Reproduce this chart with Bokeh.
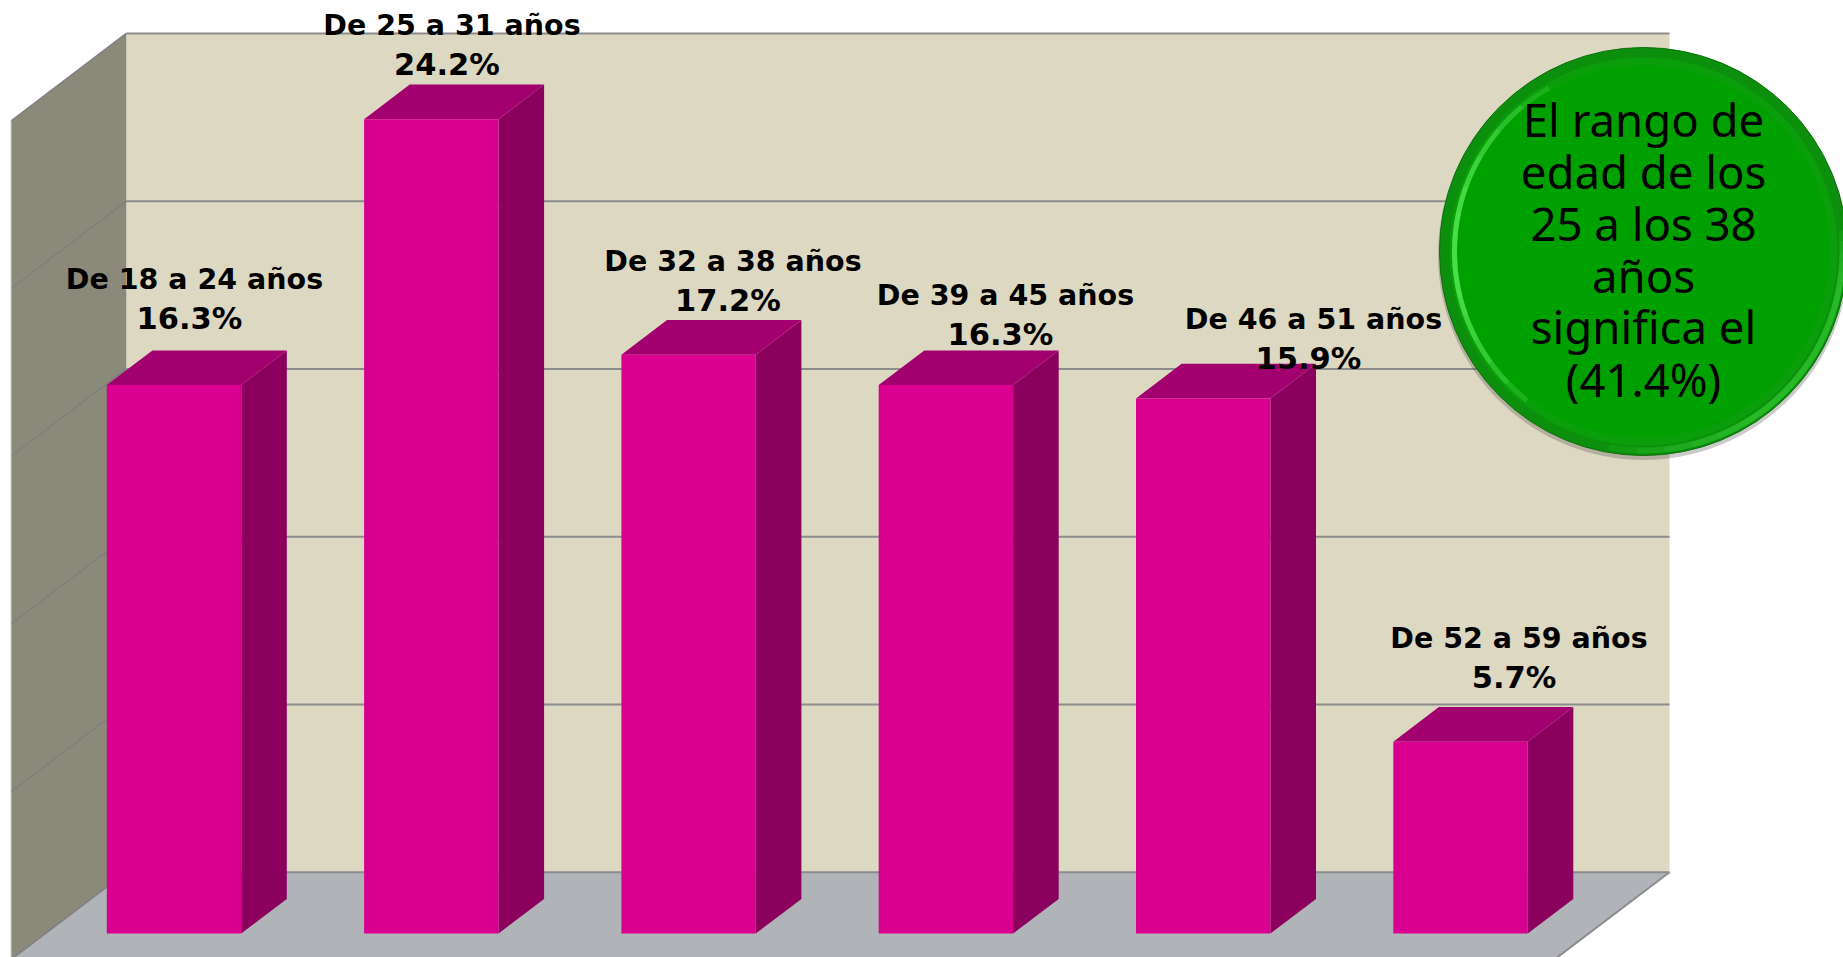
from math import radians as rad
from bokeh.plotting import figure
from bokeh.embed import file_html
from bokeh.resources import INLINE
from bokeh.core.properties import value as V
from bokeh.models import Range1d

# ---- data ----
categories = ["De 18 a 24 años", "De 25 a 31 años", "De 32 a 38 años",
              "De 39 a 45 años", "De 46 a 51 años", "De 52 a 59 años"]
percent = [16.3, 24.2, 17.2, 16.3, 15.9, 5.7]
grid_ticks = [0, 5, 10, 15, 20, 25]
note_lines = ["El rango de", "edad de los", "25 a los 38", "años", "significa el", "(41.4%)"]

# ---- layout (page pixels) ----
W, H = 1843, 957
PX_PER_CAT = 257.3
PX_PER_PCT = 33.65
WALL_PX_PER_TICK = 33.55
BAR0_CX, BASE_Y = 173.5, 933.0
def X(px): return (px - BAR0_CX) / PX_PER_CAT
def Y(py): return (BASE_Y - py) / PX_PER_PCT

p = figure(width=W, height=H, output_backend="svg", toolbar_location=None,
           x_range=Range1d(X(0), X(W)), y_range=Range1d(Y(H), Y(0)),
           min_border=0, outline_line_color=None, background_fill_color="white",
           border_fill_color="white")
p.axis.visible = False
p.grid.visible = False

hw = 67.2 / PX_PER_CAT          # half bar width
ddx, ddy = 45.6 / PX_PER_CAT, 34.6 / PX_PER_PCT   # bar depth
wall_l, wall_r = X(125.8), X(1669)
back0 = Y(871.7)                 # value 0 on the back wall
wx, wy = 115.1 / PX_PER_CAT, 87.3 / PX_PER_PCT     # chart depth
floor_bot = back0 - wy
k = WALL_PX_PER_TICK / PX_PER_PCT
top = max(grid_ticks) * k

# walls and floor
p.patch([wall_l, wall_r, wall_r, wall_l], [back0, back0, back0 + top, back0 + top],
        fill_color="#DDD8C2", line_color=None)
p.patch([wall_l - wx, wall_l, wall_l, wall_l - wx],
        [floor_bot, back0, back0 + top, floor_bot + top],
        fill_color="#8B8979", line_color=None)
p.patch([wall_l - wx, wall_l, wall_r, wall_r - wx],
        [floor_bot, back0, back0, floor_bot],
        fill_color="#B0B3B8", line_color=None)

# gridlines
for t in grid_ticks:
    p.line([wall_l, wall_r], [back0 + t * k, back0 + t * k], line_color="#8C8C8C", line_width=2)
    p.line([wall_l - wx, wall_l], [floor_bot + t * k, back0 + t * k], line_color="#7F7F82", line_width=1.5)
p.line([wall_r, wall_r - wx], [back0, floor_bot], line_color="#8C8C8C", line_width=2)
p.line([wall_l - wx, wall_l - wx], [floor_bot, floor_bot + top], line_color="#B5B3A0", line_width=1)

# 3-D bars
for i, v in enumerate(percent):
    l, r = i - hw, i + hw
    p.patch([r, r + ddx, r + ddx, r], [0, ddy, v + ddy, v], fill_color="#8A005C", line_color=None)
    p.patch([l, r, r + ddx, l + ddx], [v, v, v + ddy, v + ddy], fill_color="#A3006F", line_color=None)
    p.quad(left=l, right=r, bottom=0, top=v, fill_color="#D90090", line_color=None)

# data labels
LABEL_FONT = V("DejaVu Sans")
label_cx = [194, 451.5, 732.5, 1005, 1313, 1518.5]
label_base = [278.5, 24.5, 261, 295, 318.5, 638]
for name, v, cx, by in zip(categories, percent, label_cx, label_base):
    p.text([X(cx)], [Y(by)], text=[name], text_font=LABEL_FONT, text_font_style="bold",
           text_font_size="28.5px", text_align="center", text_baseline="alphabetic", text_color="#000000")
    p.text([X(cx - 5)], [Y(by + 39)], text=[f"{v}%"], text_font=LABEL_FONT, text_font_style="bold",
           text_font_size="30.5px", text_align="center", text_baseline="alphabetic", text_color="#000000")

# green badge
cx, cy = X(1643), Y(251)
p.scatter([X(1643)], [Y(254)], size=411, marker="circle", fill_color="#444444", fill_alpha=0.28, line_color=None)
p.scatter([cx], [cy], size=408, marker="circle", fill_color="#0C8F0C", line_color="#0A6E0A", line_width=1)
p.scatter([cx], [cy], size=388, marker="circle", fill_color="#0A9F0A", line_color=None)
# bright lower-right rim band, fading at both ends
for a0, a1 in [(-100, 6), (-92, 3), (-84, 0), (-76, -3), (-68, -6), (-60, -9)]:
    p.arc([cx], [cy], radius=199, radius_units="screen", start_angle=rad(a0), end_angle=rad(a1),
          line_color="#30C830", line_width=6, line_alpha=0.2)
# bright left-hand crescent, fading at both ends
for a0, a1 in [(120, 232), (130, 224), (140, 216), (150, 208), (160, 200), (168, 194)]:
    p.arc([cx], [cy], radius=189, radius_units="screen", start_angle=rad(a0), end_angle=rad(a1),
          line_color="#5CF05C", line_width=5, line_alpha=0.22)
p.scatter([cx], [cy], size=372, marker="circle", fill_color="#00A000", line_color=None)

note_base = [118.5, 170.5, 222.5, 274.5, 325.5, 378.5]
for line, by in zip(note_lines, note_base):
    p.text([X(1643)], [Y(by)], text=[line], text_font=V("Noto Sans"), text_font_size="45.5px",
           text_align="center", text_baseline="alphabetic", text_color="#000000")

open("out.html", "w").write(file_html(p, INLINE))
